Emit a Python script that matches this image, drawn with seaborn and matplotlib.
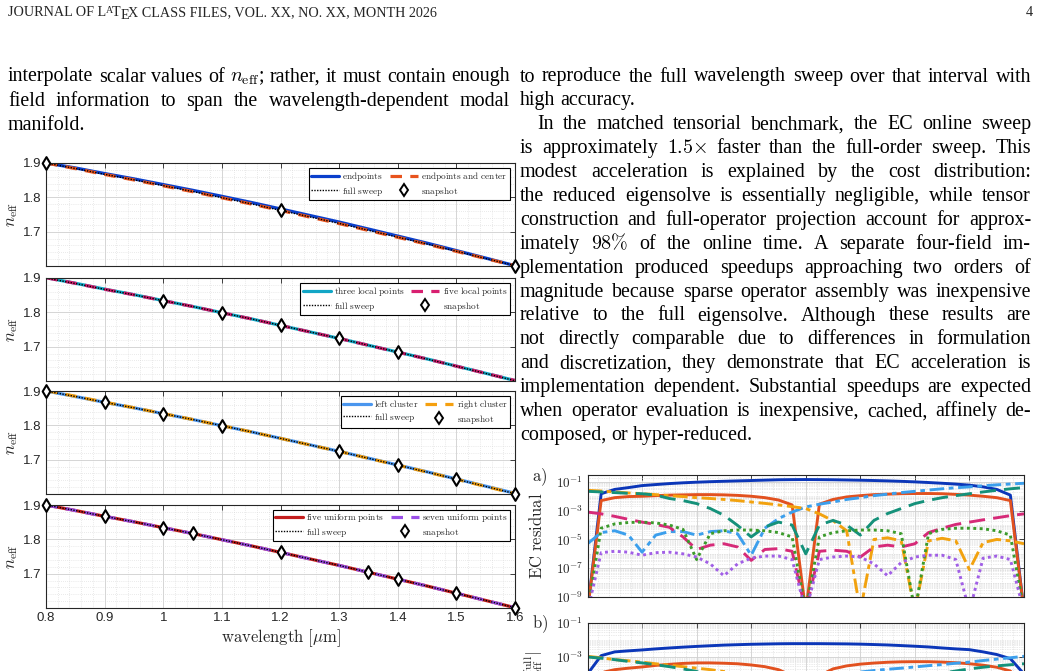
import numpy as np
import pandas as pd
import matplotlib
matplotlib.use("Agg")
import matplotlib.pyplot as plt
import seaborn as sns
from matplotlib.ticker import AutoMinorLocator, FixedLocator, LogLocator, FuncFormatter, NullFormatter
from matplotlib.lines import Line2D

# ---------------- data: n_eff sweeps ----------------
wavelength = [0.80, 0.85, 0.90, 0.95, 1.00, 1.05, 1.10, 1.15, 1.20,
              1.25, 1.30, 1.35, 1.40, 1.45, 1.50, 1.55, 1.60]
full_sweep = [1.900, 1.884, 1.867, 1.851, 1.834, 1.817, 1.799, 1.781, 1.762,
              1.743, 1.724, 1.704, 1.684, 1.664, 1.643, 1.622, 1.601]
endpoints = [1.900, 1.8857, 1.8693, 1.8538, 1.8372, 1.8206, 1.8030, 1.7852, 1.7663,
             1.7472, 1.7281, 1.7077, 1.6872, 1.6666, 1.6449, 1.6231, 1.601]
endpoints_center = [1.900, 1.8837, 1.8667, 1.8507, 1.8336, 1.8165, 1.7986, 1.7806, 1.762,
                    1.7425, 1.7236, 1.7036, 1.6835, 1.6635, 1.6426, 1.6217, 1.601]
three_local = [1.901, 1.8848, 1.8676, 1.8515, 1.8342, 1.8171, 1.799, 1.781, 1.762,
               1.743, 1.724, 1.7041, 1.6842, 1.6643, 1.6434, 1.6225, 1.6014]
five_local = [1.9008, 1.8845, 1.8672, 1.8511, 1.834, 1.817, 1.799, 1.781, 1.762,
              1.743, 1.724, 1.704, 1.684, 1.6641, 1.6432, 1.6223, 1.6016]
left_cluster = [1.900, 1.884, 1.867, 1.851, 1.834, 1.817, 1.799, 1.781, 1.7621,
                1.7432, 1.7243, 1.7044, 1.6845, 1.6646, 1.6437, 1.6228, 1.6021]
right_cluster = [1.9011, 1.8847, 1.8675, 1.8513, 1.8342, 1.8171, 1.7991, 1.781, 1.762,
                 1.743, 1.724, 1.704, 1.684, 1.664, 1.643, 1.622, 1.601]
five_uniform = [1.900, 1.884, 1.867, 1.851, 1.834, 1.817, 1.799, 1.781, 1.762,
                1.743, 1.724, 1.704, 1.684, 1.664, 1.643, 1.622, 1.601]
seven_uniform = [1.900, 1.884, 1.867, 1.851, 1.834, 1.817, 1.799, 1.781, 1.762,
                 1.743, 1.724, 1.704, 1.684, 1.664, 1.643, 1.622, 1.601]

snap_endpoints = [0.80, 1.20, 1.60]
snap_local = [1.00, 1.10, 1.20, 1.30, 1.40]
snap_cluster = [0.80, 0.90, 1.00, 1.10, 1.30, 1.40, 1.50, 1.60]
snap_uniform = [0.80, 0.90, 1.00, 1.05, 1.20, 1.35, 1.40, 1.50, 1.60]

x_ticks = [0.8, 0.9, 1.0, 1.1, 1.2, 1.3, 1.4, 1.5, 1.6]
x_tick_labels = ["0.8", "0.9", "1", "1.1", "1.2", "1.3", "1.4", "1.5", "1.6"]
y_ticks = [1.7, 1.8, 1.9]
y_tick_labels = ["1.7", "1.8", "1.9"]

# ---------------- data: residuals (panel a) and errors (panel b) ----------------
res_wavelength = [0.800, 0.825, 0.850, 0.875, 0.900, 0.925, 0.950, 0.975, 1.000, 1.025, 1.050,
                  1.075, 1.100, 1.125, 1.150, 1.175, 1.200, 1.225, 1.250, 1.275, 1.300, 1.325,
                  1.350, 1.375, 1.400, 1.425, 1.450, 1.475, 1.500, 1.525, 1.550, 1.575, 1.600]
a_endpoints = [1e-10, 1.5e-2, 3e-2, 4e-2, 5.5e-2, 6.5e-2, 7.6e-2, 8.6e-2, 9.5e-2, 1.03e-1, 1.1e-1,
               1.17e-1, 1.24e-1, 1.32e-1, 1.4e-1, 1.43e-1, 1.45e-1, 1.43e-1, 1.4e-1, 1.35e-1, 1.3e-1,
               1.24e-1, 1.17e-1, 1.09e-1, 1.0e-1, 9e-2, 8e-2, 7e-2, 5.9e-2, 4.5e-2, 3e-2, 1.2e-2, 1e-10]
a_endpoints_center = [1e-10, 5e-3, 8e-3, 9.5e-3, 1.0e-2, 1.1e-2, 1.2e-2, 1.25e-2, 1.3e-2, 1.3e-2, 1.25e-2,
                      1.15e-2, 1.0e-2, 8e-3, 5.5e-3, 2.5e-3, 1e-10, 2.8e-3, 6e-3, 9e-3, 1.1e-2, 1.3e-2,
                      1.4e-2, 1.5e-2, 1.55e-2, 1.55e-2, 1.5e-2, 1.35e-2, 1.2e-2, 1.0e-2, 8e-3, 5e-3, 1e-10]
a_left_cluster = [5e-6, 3e-5, 4e-5, 2e-5, 1.3e-6, 2e-5, 3.5e-5, 3.5e-5, 2e-5, 3.5e-5, 4e-5,
                  2.5e-5, 8e-7, 6e-5, 2.8e-4, 8e-4, 1.8e-3, 2.8e-3, 4e-3, 6e-3, 8e-3, 1.1e-2,
                  1.4e-2, 1.8e-2, 2.2e-2, 2.7e-2, 3.3e-2, 3.9e-2, 4.5e-2, 5.3e-2, 6.2e-2, 7.1e-2, 8e-2]
a_right_cluster = [2.6e-2, 2.3e-2, 2e-2, 1.7e-2, 1.5e-2, 1.3e-2, 1.1e-2, 9.5e-3, 8e-3, 7e-3, 6e-3,
                   5e-3, 4e-3, 3.2e-3, 2.5e-3, 1.9e-3, 1.4e-3, 6e-4, 2e-4, 4e-5, 1e-10, 1e-5,
                   1.3e-5, 8e-6, 1e-10, 8e-6, 1.2e-5, 8e-6, 8e-8, 6e-6, 1e-5, 8e-6, 5e-6]
a_three_local = [2.2e-2, 2e-2, 1.8e-2, 1.6e-2, 1.5e-2, 1.2e-2, 7e-3, 5e-3, 3.1e-3, 1.4e-3, 4.8e-4,
                 9.5e-5, 1.5e-5, 7.3e-5, 1.6e-4, 1e-4, 1e-6, 1e-4, 2.1e-4, 1e-4, 2e-5, 2.1e-4,
                 6.3e-4, 1.4e-3, 3.1e-3, 5.2e-3, 8e-3, 1.1e-2, 1.5e-2, 2e-2, 2.6e-2, 3.3e-2, 4e-2]
a_five_local = [8e-4, 6e-4, 4e-4, 2.5e-4, 1.6e-4, 1.1e-4, 7e-5, 1.5e-5, 2e-6, 4e-6, 5e-6,
                3e-6, 3.5e-7, 2e-6, 2.3e-6, 1.5e-6, 1e-10, 1.5e-6, 1.8e-6, 1.5e-6, 6e-7, 3e-6,
                4e-6, 3e-6, 5e-6, 3e-5, 6e-5, 1.1e-4, 1.6e-4, 2.3e-4, 3.2e-4, 4.5e-4, 6e-4]
a_five_uniform = [1e-10, 6e-5, 1.2e-4, 1.5e-4, 1.6e-4, 1.4e-4, 1e-4, 5e-5, 4e-7, 2.5e-5, 4e-5,
                  4.5e-5, 4.5e-5, 4e-5, 3e-5, 1.5e-5, 1e-10, 1.5e-5, 3e-5, 4e-5, 4.5e-5, 4.5e-5,
                  4e-5, 2.5e-5, 1e-10, 2.5e-5, 5e-5, 6e-5, 6e-5, 5.5e-5, 4e-5, 2e-5, 1e-10]
a_seven_uniform = [1e-10, 1.2e-6, 1.5e-6, 1.3e-6, 8e-7, 1.2e-6, 1.3e-6, 1e-6, 6e-7, 2e-7, 3e-8,
                   2e-7, 5e-7, 7e-7, 7e-7, 4e-7, 1e-10, 4e-7, 6e-7, 7e-7, 6e-7, 2e-7,
                   3e-8, 2.5e-7, 6e-7, 8e-7, 8e-7, 4e-7, 1e-10, 5e-7, 7e-7, 4e-7, 1e-10]

b_endpoints = [1e-4, 1.2e-3, 2e-3, 2.3e-3, 2.6e-3, 3e-3, 3.4e-3, 3.8e-3, 4.2e-3, 4.6e-3, 5e-3,
               5.3e-3, 5.6e-3, 5.8e-3, 6e-3, 6.1e-3, 6.1e-3, 6.1e-3, 6e-3, 5.9e-3, 5.7e-3, 5.4e-3,
               5.1e-3, 4.7e-3, 4.3e-3, 3.9e-3, 3.4e-3, 3e-3, 2.7e-3, 2e-3, 1.4e-3, 8e-4, 1e-4]
b_endpoints_center = [1e-5, 1.2e-4, 1.8e-4, 2.2e-4, 2.6e-4, 3.2e-4, 3.7e-4, 4.2e-4, 4.5e-4, 4.5e-4, 4.3e-4,
                      4e-4, 3.4e-4, 2.7e-4, 1.8e-4, 8e-5, 1e-6, 8e-5, 2e-4, 3e-4, 3.8e-4, 4.4e-4,
                      4.9e-4, 5.2e-4, 5.3e-4, 5.3e-4, 5e-4, 4.6e-4, 4e-4, 3.3e-4, 2.5e-4, 1.5e-4, 1e-5]
b_left_cluster = [1e-7, 1e-6, 1.5e-6, 1e-6, 5e-8, 8e-7, 1.5e-6, 1.5e-6, 8e-7, 1.5e-6, 1.6e-6,
                  1e-6, 3e-8, 3e-6, 1.2e-5, 3.5e-5, 6.6e-5, 8e-5, 9.5e-5, 1.1e-4, 1.3e-4, 1.6e-4,
                  1.9e-4, 2.2e-4, 2.6e-4, 3.1e-4, 3.6e-4, 4.3e-4, 5e-4, 6.2e-4, 7.5e-4, 9e-4, 1.1e-3]
b_right_cluster = [1.1e-3, 9e-4, 7e-4, 6e-4, 5e-4, 4e-4, 3.3e-4, 2.7e-4, 2.2e-4, 1.8e-4, 1.4e-4,
                   1.1e-4, 8e-5, 6e-5, 4e-5, 3e-5, 2e-5, 8e-6, 2e-6, 5e-7, 1e-9, 1e-7,
                   1e-7, 1e-7, 1e-9, 1e-7, 1e-7, 1e-7, 1e-9, 1e-7, 1e-7, 1e-7, 1e-7]
b_three_local = [1e-3, 8.5e-4, 7e-4, 5.5e-4, 4.5e-4, 3.5e-4, 2.7e-4, 2e-4, 1.4e-4, 8e-5, 3e-5,
                 8e-6, 1e-6, 4e-6, 8e-6, 5e-6, 1e-8, 5e-6, 1e-5, 5e-6, 1e-6, 1.2e-5,
                 3e-5, 4e-5, 5e-5, 8e-5, 1.1e-4, 1.5e-4, 2e-4, 2.5e-4, 3e-4, 3.5e-4, 4e-4]

# ---------------- figure ----------------
W, H = 1043, 671
sns.set_theme(style="white")
plt.rcParams.update({
    "font.family": ["Liberation Sans", "DejaVu Sans"],
    "mathtext.fontset": "cm",
    "axes.edgecolor": "#262626",
    "xtick.color": "#262626",
    "ytick.color": "#262626",
})
fig = plt.figure(figsize=(W / 100, H / 100), dpi=100)
fig.patch.set_facecolor("white")


def px_axes(x0, y_top, w, h):
    return fig.add_axes([x0 / W, 1 - (y_top + h) / H, w / W, h / H])


def mrm(s):
    return r"$\mathrm{" + s.replace(" ", r"\ ") + "}$"


DASH = (0, (3.6, 2.6))
DOT = (0, (1, 1))

panels = [
    dict(top=163, a=endpoints, b=endpoints_center, ca="#0A3FCC", cb="#E8531D",
         la="endpoints", lb="endpoints and center", snaps=snap_endpoints),
    dict(top=278, a=three_local, b=five_local, ca="#12A6C6", cb="#D81F70",
         la="three local points", lb="five local points", snaps=snap_local),
    dict(top=391, a=left_cluster, b=right_cluster, ca="#4A96EE", cb="#F5A00F",
         la="left cluster", lb="right cluster", snaps=snap_cluster),
    dict(top=505, a=five_uniform, b=seven_uniform, ca="#C41E1E", cb="#9B4FE8",
         la="five uniform points", lb="seven uniform points", snaps=snap_uniform),
]

lookup = dict(zip(wavelength, full_sweep))

for k, p in enumerate(panels):
    ax = px_axes(46, p["top"], 469, 103)
    sns.lineplot(x=wavelength, y=p["a"], ax=ax, color=p["ca"], lw=2.3, linestyle="-", legend=False)
    sns.lineplot(x=wavelength, y=p["b"], ax=ax, color=p["cb"], lw=2.3, linestyle=DASH, legend=False)
    sns.lineplot(x=wavelength, y=full_sweep, ax=ax, color="black", lw=1.0, linestyle=DOT, legend=False)
    sv = [lookup[s] for s in p["snaps"]]
    sns.scatterplot(x=p["snaps"], y=sv, ax=ax, marker="d", s=42, color="white",
                    edgecolor="black", linewidth=1.5, clip_on=False, zorder=6, legend=False)
    ax.set_xlim(0.8, 1.6)
    ax.set_ylim(1.6, 1.9)
    ax.set_xticks(x_ticks)
    ax.set_yticks(y_ticks)
    ax.set_yticklabels(y_tick_labels)
    if k == 3:
        ax.set_xticklabels(x_tick_labels)
        ax.set_xlabel(r"$\mathrm{wavelength}\ [\mu\mathrm{m}]$", fontsize=12, labelpad=2)
    else:
        ax.set_xticklabels([])
    ax.xaxis.set_minor_locator(AutoMinorLocator(5))
    ax.yaxis.set_minor_locator(AutoMinorLocator(5))
    ax.tick_params(which="major", direction="in", length=3.5, width=0.6, top=True, right=True,
                   labelsize=9.5, pad=3)
    ax.tick_params(which="minor", length=0)
    ax.grid(which="major", color="#cfcfcf", lw=0.6, ls="-")
    ax.grid(which="minor", color="#d6d6d6", lw=0.5, ls=(0, (1, 2)))
    ax.set_axisbelow(True)
    for s in ax.spines.values():
        s.set_color("#262626")
        s.set_linewidth(0.8)
    ax.set_ylabel(r"$n_{\rm eff}$", fontsize=12)
    ax.yaxis.set_label_coords(-0.056, 0.5)
    handles = [Line2D([], [], color=p["ca"], lw=2.3),
               Line2D([], [], color="black", lw=1.0, ls=DOT),
               Line2D([], [], color=p["cb"], lw=2.3, ls=DASH),
               Line2D([], [], ls="none", marker="d", mfc="white", mec="black", mew=1.4, ms=6)]
    labels = [mrm(p["la"]), mrm("full sweep"), mrm(p["lb"]), mrm("snapshot")]
    leg = ax.legend(handles, labels, ncol=2, loc="upper right", fontsize=6.7, frameon=True,
                    fancybox=False, edgecolor="black", framealpha=1, borderaxespad=0.55,
                    handlelength=3.0, columnspacing=0.7, handletextpad=0.35, borderpad=0.25,
                    labelspacing=0.12)
    leg.get_frame().set_linewidth(0.8)

# ---------------- residual panels ----------------
res_series = [
    (a_endpoints, b_endpoints, "#0B36B8", "-"),
    (a_endpoints_center, b_endpoints_center, "#E2511F", "-"),
    (a_left_cluster, b_left_cluster, "#3C9FEC", (0, (5, 1.6, 1.6, 1.6))),
    (a_right_cluster, b_right_cluster, "#F2A20F", (0, (5, 1.6, 1.6, 1.6))),
    (a_three_local, b_three_local, "#15917A", (0, (5.5, 2.8))),
    (a_five_local, None, "#D62A78", (0, (5.5, 2.8))),
    (a_five_uniform, None, "#3C9B2C", (0, (1, 1.2))),
    (a_seven_uniform, None, "#A15FE6", (0, (1, 1.2))),
]


def logfmt(v, pos):
    e = int(round(np.log10(v)))
    return r"$\mathsf{10^{%d}}$" % e


def style_log_axes(ax, ymin, ymax):
    ax.set_yscale("log")
    ax.set_xlim(0.8, 1.6)
    ax.set_ylim(ymin, ymax)
    ax.set_xticks(x_ticks)
    ax.set_xticklabels([])
    ax.yaxis.set_major_locator(FixedLocator([1e-9, 1e-7, 1e-5, 1e-3, 1e-1]))
    ax.yaxis.set_major_formatter(FuncFormatter(logfmt))
    ax.yaxis.set_minor_locator(LogLocator(base=10, subs=np.arange(1, 10), numticks=100))
    ax.yaxis.set_minor_formatter(NullFormatter())
    ax.xaxis.set_minor_locator(AutoMinorLocator(5))
    ax.tick_params(which="major", direction="in", length=3.5, width=0.6, top=True, right=True,
                   labelsize=9.5, pad=3)
    ax.tick_params(which="minor", length=0)
    ax.grid(which="major", color="#cfcfcf", lw=0.6, ls="-")
    ax.grid(which="minor", color="#d6d6d6", lw=0.5, ls=(0, (1, 1.5)))
    ax.set_axisbelow(True)
    for s in ax.spines.values():
        s.set_color("#262626")
        s.set_linewidth(0.8)


axa = px_axes(587.5, 475, 436.5, 122)
axa.set_yscale("log")
for a_vals, _, col, ls in res_series:
    sns.lineplot(x=res_wavelength, y=a_vals, ax=axa, color=col, lw=2.1, linestyle=ls, legend=False)
style_log_axes(axa, 1e-9, 3e-1)
axa.set_ylabel(mrm("EC residual"), fontsize=12)
axa.yaxis.set_label_coords(-0.097, 0.5)

axb = px_axes(587.5, 623, 436.5, 136)
axb.set_yscale("log")
for _, b_vals, col, ls in res_series:
    if b_vals is not None:
        sns.lineplot(x=res_wavelength, y=b_vals, ax=axb, color=col, lw=2.1, linestyle=ls, legend=False)
style_log_axes(axb, 1e-9, 1e-1)
axb.set_ylabel(r"$|n_{\rm eff}-n_{\rm eff}^{\rm full}|$", fontsize=12)
axb.yaxis.set_label_coords(-0.097, 0.5)

fig.text(532 / W, 1 - 481 / H, r"$\mathrm{a)}$", fontsize=12, ha="left", va="baseline")
fig.text(532 / W, 1 - 628 / H, r"$\mathrm{b)}$", fontsize=12, ha="left", va="baseline")

# ---------------- page text ----------------
rend = fig.canvas.get_renderer()
SERIF = ["Liberation Serif", "DejaVu Serif"]
FS = 14.4


def place(tokens, x0, x1, yb, fs=FS, justify=True):
    objs = [fig.text(0, 1 - yb / H, t, fontsize=fs, family=SERIF, va="baseline", ha="left",
                     color="black") for t in tokens]
    ws = [o.get_window_extent(renderer=rend).width for o in objs]
    if justify and len(objs) > 1:
        gap = (x1 - x0 - sum(ws)) / (len(objs) - 1)
    else:
        gap = 0.25 * fs * 100 / 72
    x = x0
    for o, w in zip(objs, ws):
        o.set_x(x / W)
        x += w + gap


left_lines = [
    (r"interpolate scalar values of $n_{\mathrm{eff}}$; rather, it must contain enough", True),
    ("field information to span the wavelength-dependent modal", True),
    ("manifold.", False),
]
for i, (ln, j) in enumerate(left_lines):
    place(ln.split(" "), 8, 510, 81.5 + 24.3 * i, justify=j)

right_lines = [
    ("to reproduce the full wavelength sweep over that interval with", True, 0),
    ("high accuracy.", False, 0),
    ("In the matched tensorial benchmark, the EC online sweep", True, 17),
    (r"is approximately $1.5{\times}$ faster than the full-order sweep. This", True, 0),
    ("modest acceleration is explained by the cost distribution:", True, 0),
    ("the reduced eigensolve is essentially negligible, while tensor", True, 0),
    ("construction and full-operator projection account for approx-", True, 0),
    (r"imately $98\%$ of the online time. A separate four-field im-", True, 0),
    ("plementation produced speedups approaching two orders of", True, 0),
    ("magnitude because sparse operator assembly was inexpensive", True, 0),
    ("relative to the full eigensolve. Although these results are", True, 0),
    ("not directly comparable due to differences in formulation", True, 0),
    ("and discretization, they demonstrate that EC acceleration is", True, 0),
    ("implementation dependent. Substantial speedups are expected", True, 0),
    ("when operator evaluation is inexpensive, cached, affinely de-", True, 0),
    ("composed, or hyper-reduced.", False, 0),
]
for i, (ln, j, ind) in enumerate(right_lines):
    place(ln.split(" "), 520 + ind, 1031, 81.5 + 23.9 * i, justify=j)

# header with LaTeX logo
HFS = 10.2
pieces = [("JOURNAL OF L", HFS, 0.0, 0.0), ("A", HFS * 0.7, -3.0, -0.6), ("T", HFS, 0.0, -0.4),
          ("E", HFS, 2.6, -0.6), ("X CLASS FILES, VOL. XX, NO. XX, MONTH 2026", HFS, 0.0, -0.6)]
x = 8.0
for txt, fs, dy, kern in pieces:
    x += kern
    o = fig.text(x / W, 1 - (16 + dy) / H, txt, fontsize=fs, family=SERIF, va="baseline", ha="left")
    x += o.get_window_extent(renderer=rend).width
fig.text(1033 / W, 1 - 16 / H, "4", fontsize=HFS, family=SERIF, va="baseline", ha="right")

fig.savefig("out.png", dpi=100, facecolor="white")
